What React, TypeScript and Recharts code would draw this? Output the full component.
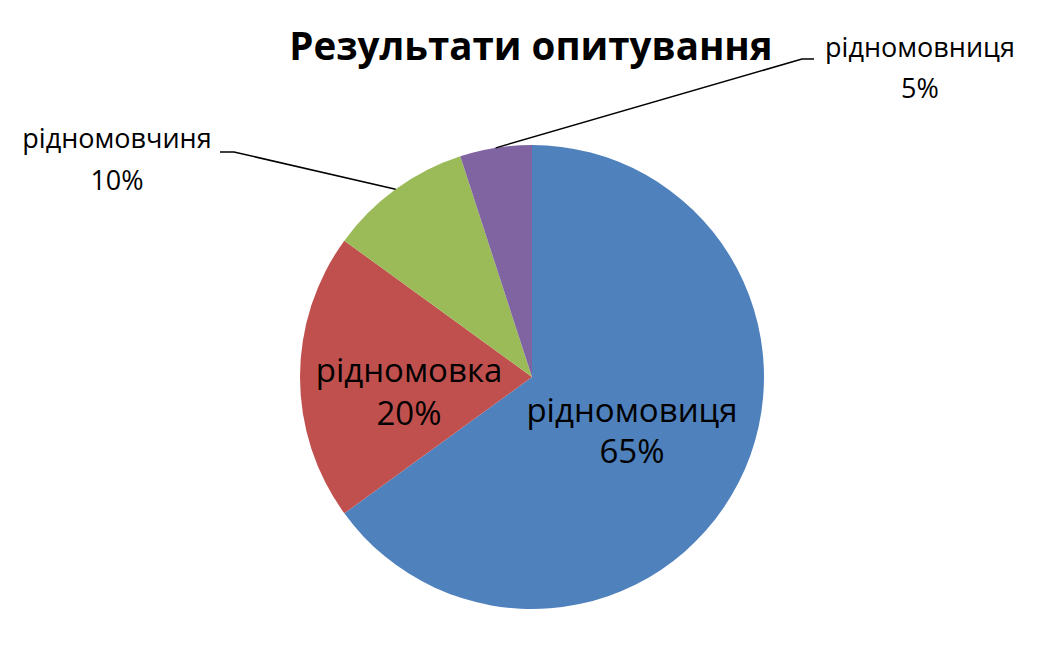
import { PieChart, Pie, Cell } from 'recharts'

const categories = ['рідномовиця', 'рідномовка', 'рідномовчиня', 'рідномовниця']
const shares = [65, 20, 10, 5]
const colors = ['#4F81BD', '#C0504D', '#9BBB59', '#8064A2']
const title = 'Результати опитування'

const data = categories.map((name, i) => ({ name, value: shares[i] }))

const FONT = "'Open Sans', 'Noto Sans', sans-serif"
const RAD = Math.PI / 180

// label placement relative to the pie centre: text centre x, two baselines,
// and for the dragged-out labels the elbow of the leader line
type LabelPos = { dx: number; y1: number; y2: number; size: number; elbow?: [number, number]; tail?: number }
const labelPos: LabelPos[] = [
  { dx: 100, y1: 45, y2: 86, size: 33 },
  { dx: -123, y1: 5, y2: 48, size: 33 },
  { dx: -415, y1: -229, y2: -187, size: 27, elbow: [-298, -225], tail: -14 },
  { dx: 388, y1: -320, y2: -279, size: 27, elbow: [270, -318], tail: 12 },
]

function renderLabel(props: any) {
  const { cx, cy, midAngle, outerRadius, percent, index, name } = props
  const pos = labelPos[index]
  const pct = `${Math.round(percent * 100)}%`
  const x = cx + pos.dx
  let line = null
  if (pos.elbow) {
    const ex = cx + outerRadius * Math.cos(-midAngle * RAD)
    const ey = cy + outerRadius * Math.sin(-midAngle * RAD)
    const bx = cx + pos.elbow[0]
    const by = cy + pos.elbow[1]
    line = (
      <polyline
        points={`${ex},${ey} ${bx},${by} ${bx + (pos.tail || 0)},${by}`}
        fill="none"
        stroke="#000"
        strokeWidth={1.5}
      />
    )
  }
  return (
    <g>
      {line}
      <text textAnchor="middle" fill="#000" fontFamily={FONT} fontSize={pos.size}>
        <tspan x={x} y={cy + pos.y1}>{name}</tspan>
        <tspan x={x} y={cy + pos.y2}>{pct}</tspan>
      </text>
    </g>
  )
}

export default function App() {
  return (
    <div style={{ position: 'absolute', left: 0, top: 0, width: 1056, height: 668, background: '#fff' }}>
      <PieChart width={1056} height={668} margin={{ top: 0, right: 0, bottom: 0, left: 0 }}>
        <Pie
          data={data}
          dataKey="value"
          nameKey="name"
          cx={532}
          cy={377}
          outerRadius={232}
          startAngle={90}
          endAngle={-270}
          stroke="none"
          label={renderLabel}
          labelLine={false}
          isAnimationActive={false}
        >
          {data.map((_, i) => (
            <Cell key={i} fill={colors[i]} />
          ))}
        </Pie>
      </PieChart>
      <svg width={1056} height={100} style={{ position: 'absolute', left: 0, top: 0 }}>
        <text x={531} y={60} textAnchor="middle" fontFamily={FONT} fontWeight={700} fontSize={38.5} fill="#000">
          {title}
        </text>
      </svg>
    </div>
  )
}
